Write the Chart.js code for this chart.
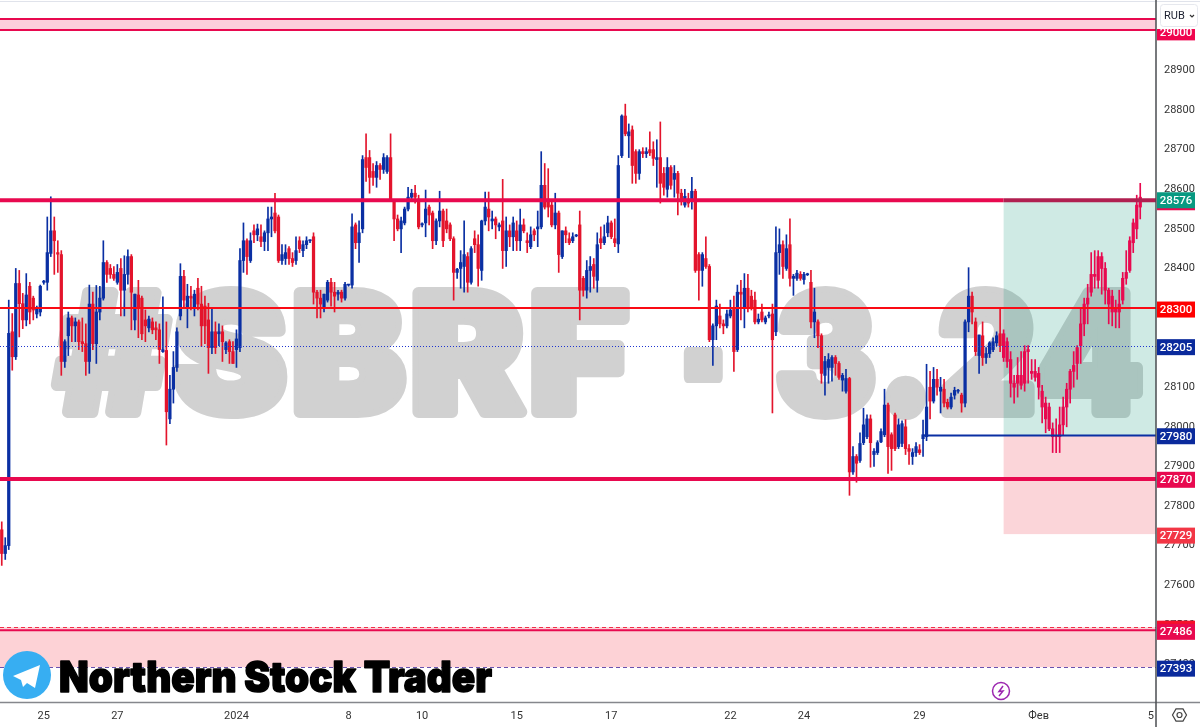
<!DOCTYPE html>
<html>
<head>
<meta charset="utf-8">
<title>SBRF-3.24</title>
<style>
html, body { margin: 0; padding: 0; background: #fff; overflow: hidden; }
#wrap { width: 1200px; height: 727px; }
</style>
<script src="https://cdn.jsdelivr.net/npm/chart.js@4/dist/chart.umd.min.js"></script>
</head>
<body>
<div id="wrap"><canvas id="chart"></canvas></div>
<script>
const slotCount = 330;

const opens = [
27740,27680,27700,28240,28177,28362,28311,28270,28355,28325,
28285,28290,28365,28365,28438,28495,28440,28435,28165,28230,
28275,28255,28265,28215,28210,28165,28310,28210,28290,28325,
28415,28400,28385,28365,28400,28345,28385,28430,28270,28333,
28325,28270,28250,28265,28250,28245,28190,28193,28020,28095,
28150,28280,28380,28300,28330,28300,28350,28310,28305,28270,
28200,28240,28235,28240,28195,28215,28190,28195,28200,28420,
28470,28420,28495,28485,28480,28468,28490,28525,28540,28530,
28420,28425,28450,28425,28420,28470,28445,28460,28470,28480,
28340,28325,28300,28320,28365,28340,28335,28340,28325,28358,
28358,28510,28465,28500,28680,28680,28645,28630,28660,28650,
28645,28680,28570,28525,28500,28515,28550,28580,28590,28575,
28510,28515,28555,28540,28470,28520,28545,28520,28510,28475,
28390,28400,28405,28430,28365,28475,28460,28395,28520,28550,
28520,28525,28505,28520,28445,28495,28480,28495,28470,28510,
28470,28455,28495,28500,28505,28610,28575,28560,28510,28540,
28430,28495,28475,28470,28482,28510,28375,28345,28395,28410,
28370,28475,28465,28490,28515,28475,28462,28685,28785,28735,
28750,28695,28640,28695,28690,28700,28700,28675,28680,28640,
28600,28655,28625,28640,28590,28560,28575,28570,28595,28435,
28395,28425,28405,28220,28255,28280,28260,28255,28280,28300,
28195,28340,28300,28350,28330,28320,28265,28290,28265,28280,
28285,28240,28440,28460,28400,28460,28375,28375,28385,28372,
28384,28365,28265,28265,28230,28130,28150,28150,28175,28160,
28118,28090,28122,27886,27925,27915,27960,27975,28020,27930,
27935,27962,27980,28055,27980,28030,27950,27958,28000,27945,
27925,27935,27942,27970,27975,28100,28065,28120,28090,28095,
28062,28050,28080,28090,28080,28060,28265,28330,28265,28180,
28230,28175,28185,28195,28212,28235,28235,28215,28170,28110,
28110,28130,28110,28195,28140,28140,28135,28090,28060,28050,
27995,27975,27975,28005,28050,28095,28140,28160,28205,28260,
28310,28340,28385,28370,28430,28400,28345,28330,28290,28290,
28320,28375,28395,28465,28500,28555
];
const highs = [
27760,27720,28320,28286,28400,28395,28337,28387,28365,28330,
28305,28358,28370,28530,28581,28530,28470,28445,28220,28290,
28280,28275,28270,28275,28260,28358,28340,28357,28355,28470,
28420,28410,28405,28410,28425,28432,28447,28435,28335,28370,
28330,28295,28280,28275,28265,28260,28328,28265,28130,28190,
28250,28412,28395,28360,28355,28345,28375,28355,28330,28312,
28300,28265,28260,28255,28215,28220,28215,28245,28450,28515,
28475,28490,28510,28512,28510,28495,28555,28555,28590,28535,
28460,28460,28455,28440,28480,28480,28470,28480,28472,28490,
28345,28345,28335,28370,28375,28365,28345,28345,28365,28360,
28538,28515,28520,28685,28740,28698,28665,28670,28665,28690,
28685,28740,28570,28535,28530,28555,28605,28600,28610,28585,
28515,28598,28560,28545,28525,28595,28550,28550,28515,28480,
28400,28445,28520,28440,28455,28495,28485,28522,28593,28593,
28545,28530,28515,28625,28530,28510,28530,28520,28550,28525,
28490,28505,28500,28545,28695,28665,28652,28570,28590,28545,
28495,28505,28490,28490,28486,28545,28380,28420,28430,28425,
28490,28505,28510,28532,28520,28525,28685,28788,28815,28765,
28760,28700,28700,28705,28705,28745,28720,28725,28770,28655,
28680,28660,28660,28645,28600,28600,28590,28630,28600,28440,
28440,28480,28410,28260,28320,28310,28270,28295,28320,28330,
28358,28370,28387,28385,28345,28340,28285,28310,28280,28290,
28310,28505,28500,28470,28485,28525,28385,28395,28392,28390,
28388,28395,28350,28270,28235,28178,28185,28180,28180,28165,
28135,28145,28125,27950,27930,27985,28047,28030,28030,27945,
27965,27995,28095,28060,27985,28035,28020,28015,28018,27955,
27945,27960,27955,28017,28158,28140,28150,28145,28125,28120,
28070,28085,28100,28095,28085,28270,28402,28340,28275,28232,
28265,28200,28215,28225,28240,28300,28245,28225,28190,28130,
28175,28190,28205,28205,28170,28170,28150,28105,28075,28060,
28010,28020,28050,28075,28110,28145,28190,28205,28300,28325,
28360,28440,28445,28445,28440,28415,28350,28345,28320,28345,
28390,28445,28480,28525,28585,28615
];
const lows = [
27650,27665,27690,28143,28170,28227,28248,28255,28260,28270,
28275,28280,28360,28345,28430,28385,28390,28130,28150,28180,
28215,28215,28195,28190,28130,28135,28195,28160,28270,28320,
28365,28375,28370,28360,28280,28280,28360,28245,28245,28225,
28220,28215,28240,28235,28220,28160,28188,27954,28008,28060,
28140,28270,28300,28250,28295,28280,28295,28203,28210,28135,
28185,28185,28205,28165,28185,28160,28160,28150,28190,28390,
28385,28415,28465,28470,28455,28445,28445,28480,28490,28415,
28410,28410,28410,28405,28410,28440,28430,28450,28465,28310,
28275,28275,28290,28315,28305,28290,28320,28315,28320,28355,
28350,28450,28415,28490,28620,28590,28610,28605,28625,28640,
28640,28570,28470,28495,28440,28510,28545,28570,28565,28500,
28505,28480,28510,28450,28460,28505,28455,28490,28470,28320,
28375,28350,28340,28340,28360,28440,28355,28370,28510,28495,
28500,28475,28495,28400,28405,28455,28445,28445,28445,28490,
28440,28450,28470,28455,28500,28550,28530,28505,28500,28390,
28425,28465,28460,28465,28480,28270,28330,28325,28340,28350,
28340,28450,28460,28480,28475,28455,28440,28680,28735,28680,
28615,28615,28625,28680,28680,28685,28660,28605,28565,28585,
28580,28600,28580,28535,28560,28555,28555,28550,28390,28320,
28355,28400,28215,28155,28220,28250,28235,28250,28275,28140,
28190,28270,28250,28290,28295,28260,28260,28265,28260,28275,
28035,28230,28385,28375,28395,28355,28332,28370,28370,28360,
28382,28250,28225,28200,28110,28080,28110,28115,28130,28120,
28090,28085,27827,27880,27860,27910,27955,27970,27898,27900,
27930,27960,27975,27882,27890,27940,27945,27950,27930,27905,
27905,27925,27930,27925,27965,28020,28060,28080,28035,28050,
28045,28045,28070,28085,28037,28050,28240,28260,28180,28135,
28155,28160,28175,28190,28205,28190,28165,28150,28075,28060,
28075,28095,28090,28110,28120,28115,28070,28010,27985,27990,
27935,27935,27935,27980,28000,28060,28100,28120,28160,28230,
28260,28330,28350,28350,28335,28310,28260,28255,28250,28250,
28310,28360,28390,28440,28475,28525
];
const closes = [
27680,27700,28236,28177,28362,28311,28270,28333,28290,28295,
28300,28355,28368,28440,28495,28470,28436,28165,28215,28275,
28255,28265,28215,28210,28165,28310,28210,28290,28325,28415,
28385,28385,28375,28390,28345,28385,28430,28340,28335,28302,
28235,28255,28272,28245,28245,28195,28195,28038,28095,28150,
28240,28380,28320,28330,28325,28335,28310,28255,28255,28200,
28240,28200,28240,28215,28212,28190,28160,28222,28420,28470,
28430,28470,28485,28500,28468,28490,28525,28530,28495,28420,
28435,28440,28425,28415,28445,28450,28460,28470,28470,28340,
28325,28310,28335,28365,28340,28330,28340,28325,28360,28358,
28505,28465,28490,28675,28655,28630,28630,28660,28650,28680,
28680,28570,28525,28500,28520,28550,28580,28590,28580,28505,
28513,28550,28535,28470,28520,28545,28470,28500,28475,28390,
28398,28415,28435,28365,28450,28460,28400,28520,28555,28530,
28525,28510,28510,28445,28495,28480,28515,28470,28510,28495,
28465,28485,28485,28505,28610,28555,28555,28510,28540,28435,
28495,28485,28465,28480,28484,28345,28345,28395,28405,28380,
28460,28465,28480,28515,28480,28465,28660,28785,28740,28745,
28660,28640,28695,28690,28695,28692,28678,28680,28615,28605,
28655,28610,28640,28590,28575,28582,28565,28595,28395,28395,
28435,28405,28220,28255,28305,28260,28255,28285,28295,28190,
28340,28335,28350,28300,28300,28265,28272,28270,28275,28282,
28220,28440,28460,28405,28450,28375,28380,28388,28375,28385,
28386,28265,28290,28230,28135,28165,28170,28175,28160,28125,
28130,28122,27886,27925,27908,27958,28005,28020,27960,27938,
27960,27988,28055,27950,27945,27945,28005,28008,27945,27938,
27935,27950,27935,27980,28050,28065,28120,28100,28100,28060,
28050,28075,28092,28092,28060,28265,28330,28290,28190,28232,
28175,28185,28212,28215,28230,28205,28175,28165,28110,28100,
28130,28105,28190,28190,28135,28125,28100,28050,28020,27995,
27975,27975,28005,28050,28095,28140,28155,28200,28260,28310,
28325,28385,28380,28430,28400,28345,28310,28290,28300,28310,
28375,28390,28470,28515,28560,28580
];

// x axis, slot number and text of each date label
const tickSlots = [12, 33, 67, 99, 120, 147, 174, 208, 229, 262, 296, 328];
const tickLabels = ['25', '27', '2024', '8', '10', '15', '17', '22', '24', '29', 'Фев', '5'];

// price axis badges
const badgeValues = [29000, 27494, 27486, 27393, 27729, 27870, 27980, 28205, 28300, 28576];
const badgeColors = ['#f0054e', '#f50f2a', '#e8094f', '#0a2a9c', '#f23645', '#e8094f', '#0a2a9c', '#0a2a9c', '#ff0000', '#089981'];

// drawn levels and zones
const channelTop = 28572;
const channelMid = 28300;
const channelLow = 27868;
const lastPrice = 28205;
const stopLine = 27978;
const targetZone = [27978, 28570];
const stopZone = [27729, 27978];
const topBand = [29002, 29030];
const bottomBand = [27393, 27494];
const bottomLine = 27486;
const zoneStartSlot = 286;
const stopLineSlot = 263;

const priceMin = 27305;
const priceMax = 29078;

const UP = '#0a2fa3';
const DOWN = '#e3142c';
const CRIMSON = '#e8094f';
const LABEL_FONT = 'Roboto, "Noto Sans", sans-serif';

function candleColor(i) {
    if (i >= zoneStartSlot) return CRIMSON;
    return closes[i] >= opens[i] ? UP : DOWN;
}

function hLine(ctx, x0, x1, y, color, width, dash) {
    // odd widths look crisp only on a half pixel
    const py = width % 2 === 1 ? Math.round(y) + 0.5 : y;
    ctx.save();
    ctx.strokeStyle = color;
    ctx.lineWidth = width;
    ctx.setLineDash(dash || []);
    ctx.beginPath();
    ctx.moveTo(x0, py);
    ctx.lineTo(x1, py);
    ctx.stroke();
    ctx.restore();
}

function band(ctx, x0, x1, y, range, color) {
    ctx.fillStyle = color;
    ctx.fillRect(x0, y.getPixelForValue(range[1]), x1 - x0, y.getPixelForValue(range[0]) - y.getPixelForValue(range[1]));
}

// big grey watermark and the zones sit under the candles
const backgroundPlugin = {
    id: 'background',
    beforeDatasetsDraw(chart) {
        const { ctx, chartArea: a, scales: { x, y } } = chart;
        ctx.save();
        ctx.fillStyle = '#d1d1d1';
        ctx.strokeStyle = '#d1d1d1';
        ctx.lineWidth = 12;
        ctx.lineJoin = 'round';
        ctx.font = '900 163px Inter, "Liberation Sans", sans-serif';
        ctx.letterSpacing = '6px';
        ctx.textBaseline = 'alphabetic';
        // each part is stretched to the span it has in the picture
        [['#SBRF', 56, 578], ['-', 681, 48], ['3.24', 776, 372]].forEach(([t, tx, w]) => {
            ctx.save();
            ctx.translate(tx, 412);
            ctx.scale(w / ctx.measureText(t).width, 1);
            ctx.strokeText(t, 0, 0);
            ctx.fillText(t, 0, 0);
            ctx.restore();
        });
        ctx.restore();

        const zoneX = x.getPixelForValue(zoneStartSlot);
        band(ctx, zoneX, a.right, y, targetZone, 'rgba(15,150,120,0.2)');
        band(ctx, zoneX, a.right, y, stopZone, '#fbd5d9');
        band(ctx, a.left, a.right, y, bottomBand, '#fdd2d6');
        band(ctx, a.left, a.right, y, topBand, '#fccfdc');
    }
};

const overlayPlugin = {
    id: 'overlay',
    afterDatasetsDraw(chart) {
        const { ctx, chartArea: a, scales: { x, y } } = chart;
        const zoneX = x.getPixelForValue(zoneStartSlot);

        hLine(ctx, a.left, a.right, y.getPixelForValue(topBand[1]), CRIMSON, 2);
        hLine(ctx, a.left, a.right, y.getPixelForValue(topBand[0]), CRIMSON, 2);
        hLine(ctx, a.left, zoneX, y.getPixelForValue(channelTop), CRIMSON, 4);
        hLine(ctx, zoneX, a.right, y.getPixelForValue(channelTop), '#b01f50', 4);
        hLine(ctx, a.left, a.right, y.getPixelForValue(channelMid), '#fa0a14', 2);
        hLine(ctx, a.left, a.right, y.getPixelForValue(lastPrice), '#1f35d0', 1, [1, 2]);
        hLine(ctx, x.getPixelForValue(stopLineSlot), a.right, y.getPixelForValue(stopLine), UP, 2);
        hLine(ctx, a.left, a.right, y.getPixelForValue(channelLow), CRIMSON, 4);
        hLine(ctx, a.left, a.right, y.getPixelForValue(bottomBand[1]), '#f0304a', 1, [4, 3]);
        hLine(ctx, a.left, a.right, y.getPixelForValue(bottomLine), CRIMSON, 2);
        hLine(ctx, a.left, a.right, y.getPixelForValue(bottomBand[0]), '#6a52b0', 1, [4, 3]);

        // telegram logo and channel name
        ctx.save();
        ctx.fillStyle = '#37aef2';
        ctx.beginPath();
        ctx.arc(27, 675, 24, 0, Math.PI * 2);
        ctx.fill();
        ctx.fillStyle = '#fff';
        ctx.beginPath();
        ctx.moveTo(13, 676);
        ctx.lineTo(40, 665);
        ctx.lineTo(35, 688);
        ctx.lineTo(27, 683);
        ctx.lineTo(23, 687);
        ctx.lineTo(21, 680);
        ctx.closePath();
        ctx.fill();
        ctx.fillStyle = '#000';
        ctx.strokeStyle = '#000';
        ctx.lineWidth = 1.5;
        ctx.lineJoin = 'round';
        ctx.font = '900 42px Inter, "Liberation Sans", sans-serif';
        ctx.strokeText('Northern Stock Trader', 59, 692, 433);
        ctx.fillText('Northern Stock Trader', 59, 692, 433);
        ctx.restore();

        // purple lightning mark
        ctx.save();
        ctx.strokeStyle = '#9c27b0';
        ctx.lineWidth = 1.5;
        ctx.beginPath();
        ctx.arc(1001, 691, 8.5, 0, Math.PI * 2);
        ctx.stroke();
        ctx.beginPath();
        ctx.moveTo(1003, 686);
        ctx.lineTo(999, 691.5);
        ctx.lineTo(1003, 691);
        ctx.lineTo(999, 696);
        ctx.stroke();
        ctx.restore();
    },
    afterDraw(chart) {
        const { ctx, chartArea: a, scales: { y }, width, height } = chart;

        // price badges
        ctx.save();
        ctx.font = '500 11.5px ' + LABEL_FONT;
        ctx.textAlign = 'center';
        ctx.textBaseline = 'middle';
        badgeValues.forEach((v, i) => {
            const py = y.getPixelForValue(v) + 1.5;
            if (v === 28576) {
                ctx.fillStyle = CRIMSON;
                ctx.fillRect(a.right + 1, py - 7, 38, 17);
            }
            ctx.fillStyle = badgeColors[i];
            ctx.fillRect(a.right + 1, py - 8, 38, 16);
            ctx.fillStyle = '#fff';
            ctx.fillText(String(v), a.right + 20, py + 0.5);
        });
        ctx.restore();

        // currency button
        ctx.save();
        ctx.fillStyle = '#fff';
        ctx.fillRect(a.right + 1, 0, width - a.right, 29);
        ctx.strokeStyle = '#e6e8ee';
        ctx.beginPath();
        ctx.roundRect(1160.5, 4.5, 37, 22, 3);
        ctx.stroke();
        ctx.fillStyle = '#1c2030';
        ctx.font = '11px ' + LABEL_FONT;
        ctx.textBaseline = 'middle';
        ctx.fillText('RUB', 1164, 16);
        ctx.strokeStyle = '#333';
        ctx.lineWidth = 1.2;
        ctx.beginPath();
        ctx.moveTo(1190, 15);
        ctx.lineTo(1192, 17);
        ctx.lineTo(1194, 15);
        ctx.stroke();
        ctx.restore();

        // frame lines and the settings mark in the corner
        ctx.save();
        hLine(ctx, 0, width, 0.5, '#e0e3eb', 1);
        hLine(ctx, 0, width, a.bottom + 0.5, '#85878c', 1.5);
        ctx.strokeStyle = '#4a4c50';
        ctx.lineWidth = 1.5;
        ctx.beginPath();
        ctx.moveTo(a.right, 0);
        ctx.lineTo(a.right, height);
        ctx.stroke();
        ctx.strokeStyle = '#444';
        ctx.lineWidth = 1.2;
        ctx.beginPath();
        for (let k = 0; k < 6; k++) {
            const t = Math.PI / 3 * k;
            ctx.lineTo(1179.5 + 7 * Math.cos(t), 715 + 7 * Math.sin(t));
        }
        ctx.closePath();
        ctx.stroke();
        ctx.beginPath();
        ctx.arc(1179.5, 715, 2.5, 0, Math.PI * 2);
        ctx.stroke();
        ctx.restore();
    }
};

const slotLabels = Array.from({ length: slotCount }, (_, i) => {
    const k = tickSlots.indexOf(i);
    return k >= 0 ? tickLabels[k] : '';
});

new Chart(document.getElementById('chart'), {
    type: 'bar',
    data: {
        labels: slotLabels,
        datasets: [
            {
                label: 'wick',
                data: highs.map((h, i) => [lows[i], h]),
                backgroundColor: opens.map((_, i) => candleColor(i)),
                barThickness: 1,
                grouped: false,
                order: 2
            },
            {
                label: 'body',
                data: opens.map((o, i) => [o, closes[i]]),
                backgroundColor: opens.map((_, i) => candleColor(i)),
                barThickness: 2.6,
                minBarLength: 1,
                grouped: false,
                order: 1
            }
        ]
    },
    options: {
        responsive: true,
        maintainAspectRatio: false,
        animation: false,
        layout: { padding: 0 },
        plugins: { legend: { display: false }, tooltip: { enabled: false } },
        scales: {
            x: {
                grid: { display: false },
                border: { display: false },
                afterFit(scale) {
                    scale.height = 25;
                    scale.paddingLeft = 0;
                    scale.paddingRight = 0;
                },
                ticks: {
                    autoSkip: false,
                    maxRotation: 0,
                    padding: 0,
                    color: '#333',
                    font: { family: LABEL_FONT, size: 11 }
                }
            },
            y: {
                position: 'right',
                min: priceMin,
                max: priceMax,
                grid: { display: false },
                border: { display: false },
                afterFit(scale) {
                    scale.width = 44;
                    scale.paddingTop = 0;
                    scale.paddingBottom = 0;
                },
                afterBuildTicks(scale) {
                    scale.ticks = scale.ticks.filter(t => t.value % 100 === 0 && t.value >= 27400);
                },
                ticks: {
                    stepSize: 100,
                    padding: 0,
                    color: '#333',
                    font: { family: LABEL_FONT, size: 11 },
                    callback: v => String(v)
                }
            }
        }
    },
    plugins: [backgroundPlugin, overlayPlugin]
});
</script>
</body>
</html>
